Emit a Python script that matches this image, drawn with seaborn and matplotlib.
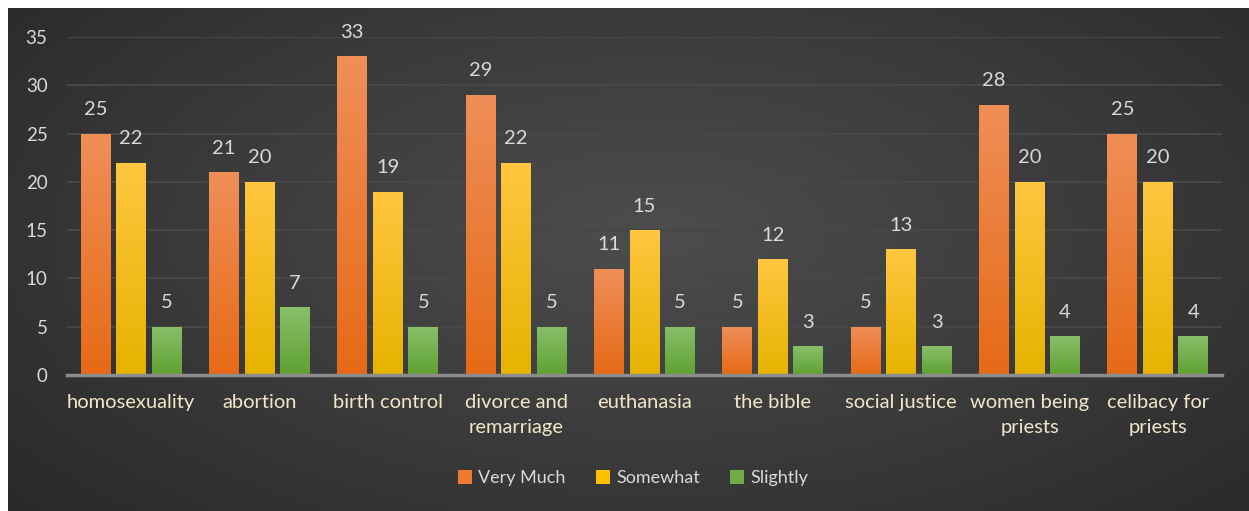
import numpy as np
import pandas as pd
import seaborn as sns
import matplotlib.pyplot as plt
from matplotlib.colors import LinearSegmentedColormap, to_rgb

# Datos
temas = ["homosexuality", "abortion", "birth control", "divorce and\nremarriage",
         "euthanasia", "the bible", "social justice", "women being\npriests",
         "celibacy for\npriests"]
niveles = ["Very Much", "Somewhat", "Slightly"]
very_much = [25, 21, 33, 29, 11, 5, 5, 28, 25]
somewhat = [22, 20, 19, 22, 15, 12, 13, 20, 20]
slightly = [5, 7, 5, 5, 5, 3, 3, 4, 4]

df = pd.DataFrame({
    "tema": temas * 3,
    "nivel": [niveles[0]] * 9 + [niveles[1]] * 9 + [niveles[2]] * 9,
    "valor": very_much + somewhat + slightly,
})

colores = {"Very Much": "#EF7B30", "Somewhat": "#FFC000", "Slightly": "#70AD47"}
# gradiente (arriba, abajo) de cada serie
grad = {"#EF7B30": ("#F08E58", "#E66A16"),
        "#FFC000": ("#FFC640", "#E6B300"),
        "#70AD47": ("#88C06A", "#5FA032")}

sns.set_style("white")
plt.rcParams['font.family'] = ['Lato', 'DejaVu Sans']

fig = plt.figure(figsize=(12.49, 5.11), dpi=100)
fig.patch.set_facecolor("white")

# Fondo con gradiente radial
bg = fig.add_axes([8 / 1249, 0, 1 - 8 / 1249, 503 / 511])
yy, xx = np.mgrid[0:1:300j, 0:1:700j]
r = np.sqrt(((xx - 0.52) / 0.75) ** 2 + ((yy - 0.45) / 0.9) ** 2)
r = np.clip(r, 0, 1)
cmap_bg = LinearSegmentedColormap.from_list("bg", ["#4d4d4d", "#3a3a3a", "#262626"])
bg.imshow(r, cmap=cmap_bg, aspect="auto", extent=[0, 1, 0, 1], vmin=0, vmax=1)
bg.axis("off")

ax = fig.add_axes([67 / 1249, (511 - 375) / 511, (1222 - 67) / 1249, 338 / 511])
ax.patch.set_alpha(0)

sns.barplot(data=df, x="tema", y="valor", hue="nivel", palette=colores,
            width=0.83, gap=0.16, ax=ax, legend=True, saturation=1,
            linewidth=0, edgecolor="none")

ax.set_ylim(0, 35)
ax.set_xlim(-0.5, 8.5)
ax.set_yticks(range(0, 36, 5))
ax.grid(axis="y", color="#474747", linewidth=1.5)
ax.set_axisbelow(True)
for s in ["top", "right", "left"]:
    ax.spines[s].set_visible(False)
ax.spines["bottom"].set_color("#8c8c8c")
ax.spines["bottom"].set_linewidth(2.5)
ax.spines["bottom"].set_zorder(5)

ax.set_xlabel("")
ax.set_ylabel("")
ax.set_xticks(range(len(temas)), temas, linespacing=1.55)
ax.tick_params(axis="x", colors="#F2E6C8", labelsize=14.5, length=0, pad=14)
ax.tick_params(axis="y", colors="#D9D9D9", labelsize=13.5, length=0, pad=14)

# Gradiente en las barras y etiquetas de valor
barras = [p for p in ax.patches if p.get_height() > 0]
for p in barras:
    hexc = None
    fc = p.get_facecolor()[:3]
    for k in grad:
        if np.allclose(fc, to_rgb(k), atol=0.02):
            hexc = k
    x0, w, h = p.get_x(), p.get_width(), p.get_height()
    if hexc is not None:
        cm = LinearSegmentedColormap.from_list("g", [grad[hexc][1], grad[hexc][0]])
        g = np.linspace(0, 1, 100).reshape(-1, 1)
        im = ax.imshow(g, cmap=cm, aspect="auto", origin="lower",
                       extent=[x0, x0 + w, 0, h], zorder=3)
        im.set_clip_path(p)
    ax.text(x0 + w / 2, h + 1.6, f"{int(h)}", ha="center", va="bottom",
            color="#D9D9D9", fontsize=14.5)

ax.set_ylim(0, 35)
ax.set_xlim(-0.5, 8.5)

# Leyenda
handles, labels = ax.get_legend_handles_labels()
for hd in handles:
    hd.set_edgecolor("none")
    hd.set_linewidth(0)
ax.legend(handles, labels, loc="center", bbox_to_anchor=(0.507, 0.064),
          bbox_transform=fig.transFigure, ncol=3, frameon=False,
          handlelength=0.75, handleheight=0.75, handletextpad=0.35,
          columnspacing=1.7, labelcolor="#D9D9D9", fontsize=13)

fig.savefig("out.png", dpi=100, facecolor=fig.get_facecolor())
